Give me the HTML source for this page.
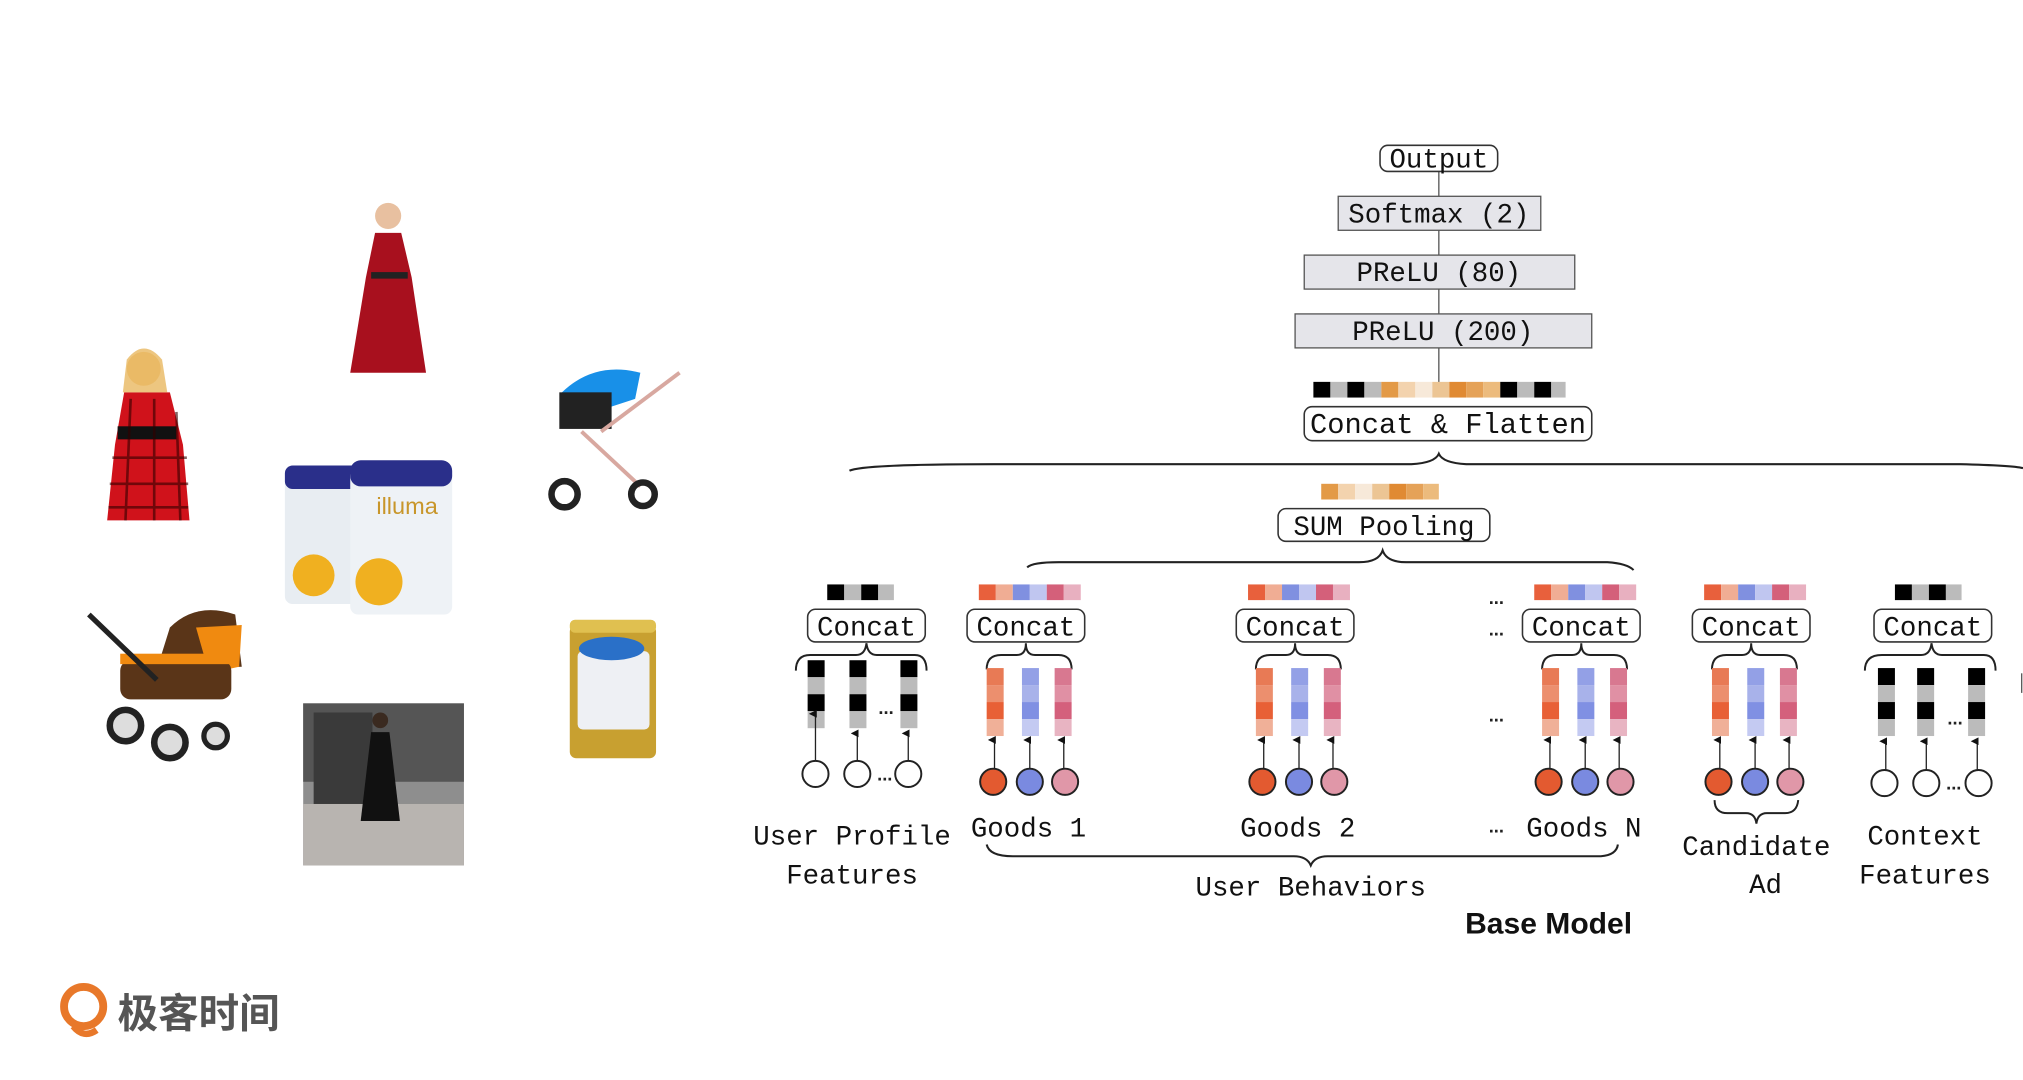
<!DOCTYPE html>
<html><head><meta charset="utf-8"><style>html,body{margin:0;padding:0;background:#fff}svg{display:block}</style></head>
<body>
<svg width="2023" height="1080" viewBox="0 0 1548 826" xmlns="http://www.w3.org/2000/svg">
<defs>
<marker id="ah" markerWidth="6" markerHeight="6" refX="3" refY="5" orient="auto-start-reverse" markerUnits="userSpaceOnUse"><path d="M0,6 L3,0 L6,6 Z" fill="#111"/></marker>
<g id="goods">
  <rect x="749" y="447" width="13" height="12" fill="#e8603c"/><rect x="762" y="447" width="13" height="12" fill="#f0ad94"/><rect x="775" y="447" width="13" height="12" fill="#8090e0"/><rect x="788" y="447" width="13" height="12" fill="#c0c6f0"/><rect x="801" y="447" width="13" height="12" fill="#d4607a"/><rect x="814" y="447" width="13" height="12" fill="#e8b0c0"/>
  <rect x="740" y="466" width="90" height="25" rx="6" fill="#fff" stroke="#333" stroke-width="1.2"/>
  <text x="785" y="486" class="m" text-anchor="middle">Concat</text>
  <path d="M755,512 Q755,501 766,501 L778,501 Q785,501 785,492 Q785,501 792,501 L810,501 Q820,501 820,512" fill="none" stroke="#222" stroke-width="1.5"/>
  <rect x="755" y="511" width="13" height="13" fill="#e87a55"/><rect x="755" y="524" width="13" height="13" fill="#ec8f6e"/><rect x="755" y="537" width="13" height="13" fill="#e86036"/><rect x="755" y="550" width="13" height="13" fill="#f0b098"/>
  <rect x="782" y="511" width="13" height="13" fill="#93a0e6"/><rect x="782" y="524" width="13" height="13" fill="#a8b2ea"/><rect x="782" y="537" width="13" height="13" fill="#8090e3"/><rect x="782" y="550" width="13" height="13" fill="#c4caf2"/>
  <rect x="807" y="511" width="13" height="13" fill="#d87890"/><rect x="807" y="524" width="13" height="13" fill="#e090a4"/><rect x="807" y="537" width="13" height="13" fill="#d4607c"/><rect x="807" y="550" width="13" height="13" fill="#e8b4c2"/>
  <line x1="761" y1="588" x2="761" y2="566" stroke="#222" stroke-width="1" marker-end="url(#ah)"/>
  <line x1="788" y1="588" x2="788" y2="566" stroke="#222" stroke-width="1" marker-end="url(#ah)"/>
  <line x1="814" y1="588" x2="814" y2="566" stroke="#222" stroke-width="1" marker-end="url(#ah)"/>
  <circle cx="760" cy="598" r="10" fill="#e35a30" stroke="#222" stroke-width="1.5"/>
  <circle cx="788" cy="598" r="10" fill="#7a8ae0" stroke="#222" stroke-width="1.5"/>
  <circle cx="815" cy="598" r="10" fill="#e097a8" stroke="#222" stroke-width="1.5"/>
</g>
<g id="gray">
  <rect x="0" y="0" width="13" height="13" fill="#000"/><rect x="0" y="13" width="13" height="13" fill="#bbb"/><rect x="0" y="26" width="13" height="13" fill="#000"/><rect x="0" y="39" width="13" height="13" fill="#bbb"/>
</g>
</defs>
<style>
.m{font-family:"Liberation Mono","DejaVu Sans Mono",monospace;font-size:21px;fill:#111}
.d{font-family:"Liberation Sans",sans-serif;font-size:14px;font-weight:bold;fill:#222}
</style>

<!-- product images (approximations) -->
<g>
  <path d="M95,300 L130,300 L140,340 L145,398 L82,398 L88,340 Z" fill="#d0121b"/>
  <circle cx="110" cy="282" r="13" fill="#f1c27d"/>
  <path d="M97,275 Q110,258 124,275 L128,300 L94,300 Z" fill="#e8b860" opacity=".8"/>
  <rect x="90" y="326" width="45" height="10" fill="#111"/>
  <g stroke="#300" stroke-width="2" opacity=".6"><line x1="86" y1="350" x2="143" y2="350"/><line x1="84" y1="370" x2="144" y2="370"/><line x1="83" y1="388" x2="144" y2="388"/><line x1="100" y1="305" x2="96" y2="398"/><line x1="118" y1="305" x2="118" y2="398"/><line x1="135" y1="315" x2="138" y2="398"/></g>

  <circle cx="297" cy="165" r="10" fill="#e8c0a0"/>
  <path d="M287,178 L307,178 L315,212 L326,285 L268,285 L280,212 Z" fill="#a8101e"/>
  <rect x="284" y="208" width="28" height="5" fill="#222"/>

  <path d="M430,300 Q455,276 490,285 L486,305 L440,320 Z" fill="#1890e8"/>
  <rect x="428" y="300" width="40" height="28" fill="#222"/>
  <line x1="460" y1="330" x2="520" y2="285" stroke="#d8a8a0" stroke-width="3"/>
  <line x1="445" y1="330" x2="490" y2="372" stroke="#d8a8a0" stroke-width="3"/>
  <circle cx="432" cy="378" r="10" fill="none" stroke="#222" stroke-width="5"/>
  <circle cx="492" cy="378" r="9" fill="none" stroke="#222" stroke-width="5"/>

  <g>
    <rect x="218" y="362" width="62" height="100" rx="6" fill="#e8edf2"/>
    <rect x="218" y="356" width="62" height="18" rx="6" fill="#2a2f8a"/>
    <rect x="268" y="358" width="78" height="112" rx="6" fill="#eef2f6"/>
    <rect x="268" y="352" width="78" height="20" rx="8" fill="#2a2f8a"/>
    <text x="288" y="393" font-family="Liberation Sans,sans-serif" font-size="18" fill="#c8962a">illuma</text>
    <circle cx="290" cy="445" r="18" fill="#f0b020"/>
    <circle cx="240" cy="440" r="16" fill="#f0b020"/>
  </g>

  <path d="M130,480 Q150,460 180,470 L185,510 L120,512 Z" fill="#5a3518"/>
  <path d="M150,480 L185,478 L183,510 L160,515 Z" fill="#f08a10"/>
  <rect x="92" y="505" width="85" height="30" rx="8" fill="#5a3518"/>
  <rect x="92" y="500" width="85" height="8" fill="#f08a10"/>
  <line x1="68" y1="470" x2="120" y2="520" stroke="#222" stroke-width="4"/>
  <circle cx="96" cy="555" r="12" fill="#ddd" stroke="#222" stroke-width="5"/>
  <circle cx="130" cy="568" r="12" fill="#ddd" stroke="#222" stroke-width="5"/>
  <circle cx="165" cy="563" r="9" fill="#ddd" stroke="#222" stroke-width="4"/>

  <rect x="232" y="538" width="123" height="124" fill="#8e8e8e"/>
  <rect x="232" y="538" width="123" height="60" fill="#555"/>
  <rect x="240" y="545" width="45" height="70" fill="#3a3a3a"/>
  <rect x="232" y="615" width="123" height="47" fill="#b8b4b0"/>
  <circle cx="291" cy="551" r="6" fill="#3a2a20"/>
  <path d="M284,560 L298,560 L306,628 L276,628 Z" fill="#111"/>

  <rect x="436" y="478" width="66" height="102" rx="5" fill="#c8a030"/>
  <rect x="436" y="474" width="66" height="10" rx="4" fill="#e0c050"/>
  <rect x="442" y="498" width="55" height="60" rx="4" fill="#eef0f4"/>
  <ellipse cx="468" cy="496" rx="25" ry="9" fill="#2a70c8"/>
</g>

<!-- logo -->
<circle cx="64" cy="770" r="15" fill="none" stroke="#e8782a" stroke-width="6"/>
<path d="M56,785 Q64,795 74,788" fill="none" stroke="#e8782a" stroke-width="5"/>
<text x="90" y="786" font-family="'Noto Sans CJK SC','WenQuanYi Zen Hei',sans-serif" font-size="31" font-weight="bold" fill="#555">极客时间</text>

<!-- top stack -->
<line x1="1101" y1="131" x2="1101" y2="293" stroke="#555" stroke-width="1"/>
<rect x="1056" y="111" width="90" height="20" rx="6" fill="#fff" stroke="#333" stroke-width="1.2"/>
<text x="1101" y="128" class="m" text-anchor="middle">Output</text>
<rect x="1024" y="150" width="155" height="26" fill="#e5e5ea" stroke="#555" stroke-width="1"/>
<text x="1101" y="170" class="m" text-anchor="middle">Softmax (2)</text>
<rect x="998" y="195" width="207" height="26" fill="#e5e5ea" stroke="#555" stroke-width="1"/>
<text x="1101" y="215" class="m" text-anchor="middle">PReLU (80)</text>
<rect x="991" y="240" width="227" height="26" fill="#e5e5ea" stroke="#555" stroke-width="1"/>
<text x="1104" y="260" class="m" text-anchor="middle">PReLU (200)</text>

<g>
<rect x="1005" y="292" width="13" height="12" fill="#000"/><rect x="1018" y="292" width="13" height="12" fill="#bbb"/><rect x="1031" y="292" width="13" height="12" fill="#000"/><rect x="1044" y="292" width="13" height="12" fill="#bbb"/><rect x="1057" y="292" width="13" height="12" fill="#e39a47"/><rect x="1070" y="292" width="13" height="12" fill="#f3d3ae"/><rect x="1083" y="292" width="13" height="12" fill="#f7e9d9"/><rect x="1096" y="292" width="13" height="12" fill="#ecc594"/><rect x="1109" y="292" width="13" height="12" fill="#e08a33"/><rect x="1122" y="292" width="13" height="12" fill="#e5a258"/><rect x="1135" y="292" width="13" height="12" fill="#ecbb7d"/><rect x="1148" y="292" width="13" height="12" fill="#000"/><rect x="1161" y="292" width="13" height="12" fill="#bbb"/><rect x="1174" y="292" width="13" height="12" fill="#000"/><rect x="1187" y="292" width="11" height="12" fill="#bbb"/>
</g>
<rect x="998" y="311" width="220" height="26" rx="6" fill="#fff" stroke="#333" stroke-width="1.2"/>
<text x="1108" y="331" class="m" text-anchor="middle" style="font-size:22px">Concat &amp; Flatten</text>

<path d="M650,360 Q660,355 760,355 L1080,355 Q1098,354 1101,347 Q1104,354 1122,355 L1500,355 Q1540,356 1548,358" fill="none" stroke="#222" stroke-width="1.6"/>

<g>
<rect x="1011" y="370" width="13" height="12" fill="#e39a47"/><rect x="1024" y="370" width="13" height="12" fill="#f3d3ae"/><rect x="1037" y="370" width="13" height="12" fill="#f7e9d9"/><rect x="1050" y="370" width="13" height="12" fill="#ecc594"/><rect x="1063" y="370" width="13" height="12" fill="#e08a33"/><rect x="1076" y="370" width="13" height="12" fill="#e5a258"/><rect x="1089" y="370" width="12" height="12" fill="#ecbb7d"/>
</g>
<rect x="978" y="389" width="162" height="25" rx="6" fill="#fff" stroke="#333" stroke-width="1.2"/>
<text x="1059" y="409" class="m" text-anchor="middle">SUM Pooling</text>
<path d="M786,434 Q790,430 810,430 L1040,430 Q1055,430 1058,421 Q1061,430 1076,430 L1230,430 Q1245,431 1250,436" fill="none" stroke="#222" stroke-width="1.6"/>

<!-- User profile -->
<rect x="633" y="447" width="13" height="12" fill="#000"/><rect x="646" y="447" width="13" height="12" fill="#bbb"/><rect x="659" y="447" width="13" height="12" fill="#000"/><rect x="672" y="447" width="12" height="12" fill="#bbb"/>
<rect x="618" y="466" width="90" height="25" rx="6" fill="#fff" stroke="#333" stroke-width="1.2"/>
<text x="663" y="486" class="m" text-anchor="middle">Concat</text>
<path d="M609,513 Q609,501 620,501 L655,501 Q662,501 663,492 Q664,501 671,501 L700,501 Q709,501 709,513" fill="none" stroke="#222" stroke-width="1.5"/>
<use href="#gray" x="618" y="505"/><use href="#gray" x="650" y="505"/><use href="#gray" x="689" y="505"/>
<text x="678" y="546" class="d" text-anchor="middle">...</text>
<line x1="624" y1="582" x2="624" y2="546" stroke="#222" marker-end="url(#ah)"/>
<line x1="656" y1="582" x2="656" y2="561" stroke="#222" marker-end="url(#ah)"/>
<line x1="695" y1="582" x2="695" y2="561" stroke="#222" marker-end="url(#ah)"/>
<circle cx="624" cy="592" r="10" fill="#fff" stroke="#222" stroke-width="1.5"/>
<circle cx="656" cy="592" r="10" fill="#fff" stroke="#222" stroke-width="1.5"/>
<circle cx="695" cy="592" r="10" fill="#fff" stroke="#222" stroke-width="1.5"/>
<text x="677" y="597" class="d" text-anchor="middle">...</text>
<text x="652" y="646" class="m" text-anchor="middle">User Profile</text>
<text x="652" y="676" class="m" text-anchor="middle">Features</text>

<!-- goods -->
<use href="#goods"/>
<use href="#goods" x="206"/>
<use href="#goods" x="425"/>
<use href="#goods" x="555"/>
<text x="787" y="640" class="m" text-anchor="middle">Goods 1</text>
<text x="993" y="640" class="m" text-anchor="middle">Goods 2</text>
<text x="1212" y="640" class="m" text-anchor="middle">Goods N</text>
<text x="1145" y="462" class="d" text-anchor="middle">...</text>
<text x="1145" y="486" class="d" text-anchor="middle">...</text>
<text x="1145" y="552" class="d" text-anchor="middle">...</text>
<text x="1145" y="637" class="d" text-anchor="middle">...</text>
<path d="M755,646 Q757,655 775,655 L990,655 Q1000,655 1003,662 Q1006,655 1016,655 L1225,655 Q1237,654 1238,646" fill="none" stroke="#222" stroke-width="1.6"/>
<text x="1003" y="685" class="m" text-anchor="middle">User Behaviors</text>
<text x="1185" y="714" font-family="'Liberation Sans',sans-serif" font-size="23" font-weight="bold" fill="#111" text-anchor="middle">Base Model</text>

<!-- candidate -->
<path d="M1312,612 Q1312,622 1322,622 L1336,622 Q1343,622 1344,630 Q1345,622 1352,622 L1366,622 Q1375,622 1376,612" fill="none" stroke="#222" stroke-width="1.5"/>
<text x="1344" y="654" class="m" text-anchor="middle">Candidate</text>
<text x="1351" y="683" class="m" text-anchor="middle">Ad</text>

<!-- context -->
<rect x="1450" y="447" width="13" height="12" fill="#000"/><rect x="1463" y="447" width="13" height="12" fill="#bbb"/><rect x="1476" y="447" width="13" height="12" fill="#000"/><rect x="1489" y="447" width="12" height="12" fill="#bbb"/>
<rect x="1434" y="466" width="90" height="25" rx="6" fill="#fff" stroke="#333" stroke-width="1.2"/>
<text x="1479" y="486" class="m" text-anchor="middle">Concat</text>
<path d="M1427,513 Q1427,501 1440,501 L1470,501 Q1477,501 1478,492 Q1479,501 1486,501 L1518,501 Q1527,501 1527,513" fill="none" stroke="#222" stroke-width="1.5"/>
<use href="#gray" x="1437" y="511"/><use href="#gray" x="1467" y="511"/><use href="#gray" x="1506" y="511"/>
<text x="1496" y="554" class="d" text-anchor="middle">...</text>
<line x1="1443" y1="589" x2="1443" y2="567" stroke="#222" marker-end="url(#ah)"/>
<line x1="1474" y1="589" x2="1474" y2="567" stroke="#222" marker-end="url(#ah)"/>
<line x1="1513" y1="589" x2="1513" y2="567" stroke="#222" marker-end="url(#ah)"/>
<circle cx="1442" cy="599" r="10" fill="#fff" stroke="#222" stroke-width="1.5"/>
<circle cx="1474" cy="599" r="10" fill="#fff" stroke="#222" stroke-width="1.5"/>
<circle cx="1514" cy="599" r="10" fill="#fff" stroke="#222" stroke-width="1.5"/>
<text x="1495" y="604" class="d" text-anchor="middle">...</text>
<text x="1473" y="646" class="m" text-anchor="middle">Context</text>
<text x="1473" y="676" class="m" text-anchor="middle">Features</text>
<line x1="1547" y1="515" x2="1547" y2="530" stroke="#555" stroke-width="1"/>
</svg>
</body></html>
